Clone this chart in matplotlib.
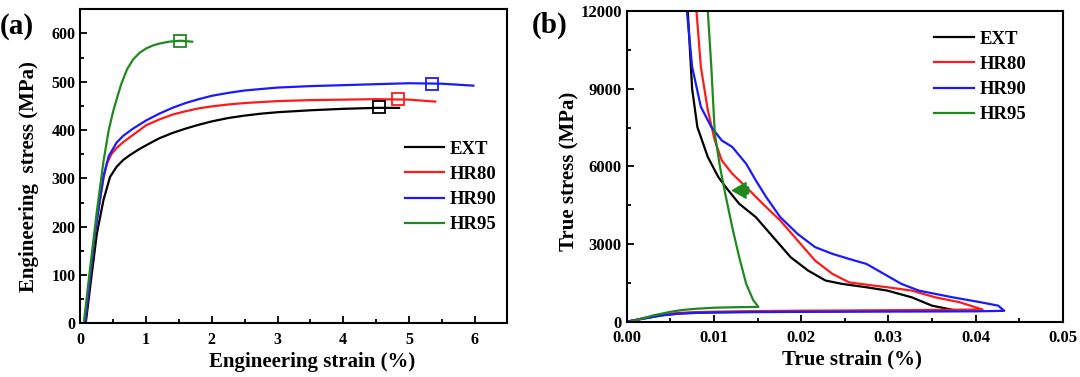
import matplotlib
matplotlib.use('Agg')
import matplotlib.pyplot as plt
from matplotlib.ticker import MultipleLocator, FormatStrFormatter

# (a) engineering stress-strain curves
ext_x = [0.08, 0.17, 0.25, 0.35, 0.45, 0.55, 0.65, 0.76, 0.9, 1.06, 1.2, 1.4, 1.6, 1.8, 2.0,
         2.25, 2.5, 2.75, 3.0, 3.5, 4.0, 4.5, 4.85]
ext_y = [0, 100, 186, 255, 303, 324, 338, 349, 361, 373, 383, 394, 403, 411, 418,
         425, 430, 434, 437, 441, 444, 446, 446]
hr80_x = [0.07, 0.14, 0.22, 0.29, 0.35, 0.40, 0.47, 0.55, 0.65, 0.8, 1.0, 1.2, 1.4, 1.6, 1.8,
          2.0, 2.25, 2.5, 3.0, 3.5, 4.0, 4.5, 5.0, 5.4]
hr80_y = [0, 90, 186, 250, 300, 330, 350, 363, 375, 390, 410, 422, 432, 439, 445,
          449, 453, 456, 460, 462, 463, 464, 463, 459]
hr90_x = [0.07, 0.14, 0.22, 0.29, 0.35, 0.43, 0.55, 0.65, 0.8, 1.0, 1.2, 1.4, 1.6, 1.8, 2.0,
          2.25, 2.5, 3.0, 3.5, 4.0, 4.5, 5.0, 5.5, 5.98]
hr90_y = [0, 90, 186, 250, 304, 346, 374, 388, 403, 420, 434, 446, 456, 464, 471,
          477, 482, 488, 491, 493, 495, 497, 496, 492]
hr95_x = [0.05, 0.15, 0.25, 0.35, 0.43, 0.50, 0.56, 0.62, 0.71, 0.80, 0.90, 1.0, 1.1, 1.2,
          1.35, 1.52, 1.70]
hr95_y = [0, 118, 232, 335, 400, 440, 468, 495, 526, 546, 560, 569, 575, 579, 583, 585, 583]

# fracture point markers (strain, stress)
mark_x = [4.55, 4.84, 5.35, 1.52]
mark_y = [447, 465, 495, 584]

# (b) true stress-strain curves: lower branch and upper branch
ext_lo_x = [0.0, 0.002, 0.004, 0.006, 0.008, 0.010, 0.015, 0.020, 0.030, 0.0378]
ext_lo_y = [0, 130, 250, 320, 350, 365, 385, 400, 420, 430]
ext_up_x = [0.0378, 0.0350, 0.0327, 0.0299, 0.0275, 0.0247, 0.0228, 0.0208, 0.0188, 0.0168,
            0.0148, 0.0129, 0.0115, 0.0105, 0.0093, 0.0081, 0.0075, 0.0070]
ext_up_y = [430, 620, 940, 1200, 1330, 1460, 1590, 1975, 2490, 3265,
            4040, 4555, 5135, 5590, 6360, 7520, 9000, 12000]

hr80_lo_x = [0.0, 0.002, 0.004, 0.006, 0.008, 0.010, 0.015, 0.020, 0.030, 0.0408]
hr80_lo_y = [0, 140, 270, 340, 370, 385, 410, 425, 440, 470]
hr80_up_x = [0.0408, 0.0382, 0.0354, 0.0327, 0.0299, 0.0275, 0.0255, 0.0236, 0.0216, 0.0196,
             0.0176, 0.0156, 0.0137, 0.0121, 0.0109, 0.0101, 0.0093, 0.0085, 0.0080]
hr80_up_y = [470, 750, 940, 1200, 1330, 1430, 1520, 1845, 2360, 3135,
             3910, 4555, 5200, 5715, 6230, 7000, 8170, 9845, 12000]

hr90_lo_x = [0.0, 0.002, 0.004, 0.006, 0.008, 0.010, 0.015, 0.020, 0.030, 0.040, 0.0433]
hr90_lo_y = [0, 120, 240, 310, 340, 355, 370, 380, 390, 400, 420]
hr90_up_x = [0.0433, 0.0426, 0.0406, 0.0374, 0.0335, 0.0315, 0.0295, 0.0275, 0.0255, 0.0236, 0.0216,
             0.0196, 0.0176, 0.0160, 0.0148, 0.0137, 0.0121, 0.0109, 0.0097, 0.0085, 0.0075, 0.0069]
hr90_up_y = [420, 620, 750, 940, 1200, 1460, 1845, 2230, 2425, 2620, 2880,
             3390, 4040, 4810, 5460, 6100, 6750, 7000, 7520, 8300, 9845, 12000]

hr95_lo_x = [0.0004, 0.003, 0.005, 0.0063, 0.008, 0.010, 0.0125, 0.0151]
hr95_lo_y = [0, 240, 380, 450, 500, 540, 560, 570]
hr95_up_x = [0.0151, 0.0145, 0.0137, 0.0129, 0.0121, 0.0113, 0.0107, 0.0101, 0.0097, 0.0093]
hr95_up_y = [570, 838, 1460, 2490, 3650, 4940, 5975, 7265, 9845, 12000]

labels = ['EXT', 'HR80', 'HR90', 'HR95']
colors = ['black', '#ff1a1a', '#1a1aff', '#1e8a1e']

plt.rcParams['font.family'] = 'serif'
plt.rcParams['font.serif'] = ['Liberation Serif', 'DejaVu Serif']
plt.rcParams['font.weight'] = 'bold'
plt.rcParams['axes.labelweight'] = 'bold'
plt.rcParams['axes.linewidth'] = 1.5


def style_axes(ax, fs):
    ax.tick_params(which='both', direction='in', top=False, right=False, width=1.3, labelsize=fs)
    ax.tick_params(which='major', length=5)
    ax.tick_params(which='minor', length=3)
    ax.tick_params(axis='x', pad=6)
    for lab in ax.get_xticklabels() + ax.get_yticklabels():
        lab.set_fontweight('bold')


fig = plt.figure(figsize=(10.8, 3.77), dpi=100)
ax1 = fig.add_axes([0.0745, 0.1424, 0.3954, 0.8329])
ax2 = fig.add_axes([0.5803, 0.1467, 0.4037, 0.8241])

# panel (a)
curves_a = [(ext_x, ext_y), (hr80_x, hr80_y), (hr90_x, hr90_y), (hr95_x, hr95_y)]
for (x, y), c, lab in zip(curves_a, colors, labels):
    ax1.plot(x, y, color=c, lw=1.6, label=lab)
for mx, my, c in zip(mark_x, mark_y, colors):
    ax1.plot(mx, my, marker='s', ms=9, mfc='none', mec=c, mew=1.3, ls='none')

ax1.set_xlim(0, 6.5)
ax1.set_ylim(0, 650)
ax1.xaxis.set_major_locator(MultipleLocator(1))
ax1.xaxis.set_minor_locator(MultipleLocator(0.5))
ax1.yaxis.set_major_locator(MultipleLocator(100))
ax1.yaxis.set_minor_locator(MultipleLocator(50))
style_axes(ax1, 11.5)
ax1.set_xlabel('Engineering strain (%)', fontsize=15, va='center')
ax1.xaxis.set_label_coords(0.543, -0.123)
ax1.set_ylabel('Engineering  stress (MPa)', fontsize=15, va='center')
ax1.yaxis.set_label_coords(-0.12, 0.4675)
ax1.legend(loc='upper left', bbox_to_anchor=(0.759, 0.582), frameon=False,
           fontsize=13.5, handlelength=2.1, handletextpad=0.3, labelspacing=0.43,
           borderpad=0, borderaxespad=0)

# panel (b)
curves_b = [(ext_lo_x, ext_lo_y, ext_up_x, ext_up_y),
            (hr80_lo_x, hr80_lo_y, hr80_up_x, hr80_up_y),
            (hr90_lo_x, hr90_lo_y, hr90_up_x, hr90_up_y),
            (hr95_lo_x, hr95_lo_y, hr95_up_x, hr95_up_y)]
for (lx, ly, ux, uy), c, lab in zip(curves_b, colors, labels):
    ax2.plot(lx + ux, ly + uy, color=c, lw=1.6, label=lab)

ax2.annotate('', xy=(0.0118, 5070), xytext=(0.0143, 5070),
             arrowprops=dict(arrowstyle='simple,head_length=0.7,head_width=0.8,tail_width=0.35',
                             color=colors[3], mutation_scale=14))

ax2.set_xlim(0, 0.05)
ax2.set_ylim(0, 12000)
ax2.xaxis.set_major_locator(MultipleLocator(0.01))
ax2.xaxis.set_minor_locator(MultipleLocator(0.005))
ax2.xaxis.set_major_formatter(FormatStrFormatter('%.2f'))
ax2.yaxis.set_major_locator(MultipleLocator(3000))
ax2.yaxis.set_minor_locator(MultipleLocator(1500))
style_axes(ax2, 12)
ax2.set_xlabel('True strain (%)', fontsize=15, va='center')
ax2.xaxis.set_label_coords(0.516, -0.123)
ax2.set_ylabel('True stress (MPa)', fontsize=15, va='center')
ax2.yaxis.set_label_coords(-0.1317, 0.485)
ax2.legend(loc='upper left', bbox_to_anchor=(0.7055, 0.937), frameon=False,
           fontsize=13.5, handlelength=2.1, handletextpad=0.3, labelspacing=0.43,
           borderpad=0, borderaxespad=0)

fig.text(0.0, 1 - 26 / 377, '(a)', fontsize=21, fontweight='bold', ha='left', va='center')
fig.text(531.7 / 1080, 1 - 25 / 377, '(b)', fontsize=21, fontweight='bold', ha='left', va='center')

fig.savefig('out.png', dpi=100)
